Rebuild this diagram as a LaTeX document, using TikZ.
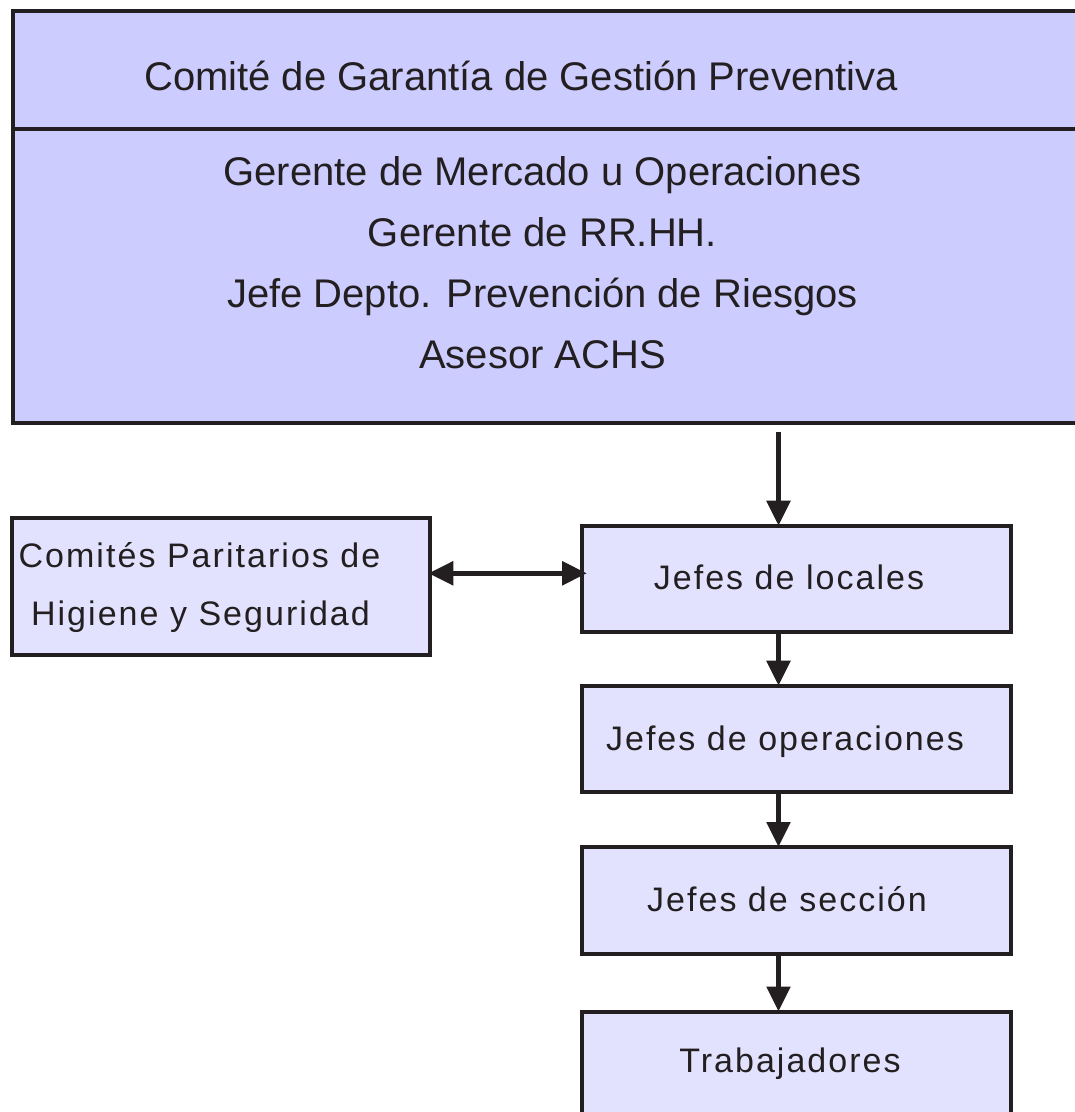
\documentclass[tikz,border=0pt]{standalone}
\usepackage{fontspec}
\setmainfont{Liberation Sans}
\newfontfamily\spacedfont[LetterSpace=6]{Liberation Sans}
\usetikzlibrary{arrows.meta}
\definecolor{ink}{HTML}{231F20}
\definecolor{topfill}{HTML}{CCCCFF}
\definecolor{boxfill}{HTML}{E2E2FF}
\tikzset{
  border/.style={draw=ink, line width=4pt},
  topbox/.style={border, fill=topfill, rectangle, inner sep=0pt, anchor=north west},
  orgbox/.style={border, fill=boxfill, rectangle, inner sep=0pt, anchor=north west,
                 minimum width=429.3pt, minimum height=106.5pt},
  bigtext/.style={font=\fontsize{40}{48}\selectfont, text=ink, inner sep=0pt, anchor=base},
  smalltext/.style={font=\spacedfont\fontsize{34}{40}\selectfont, text=ink, inner sep=0pt, anchor=base},
  arr/.style={draw=ink, line width=5.5pt, -{Triangle[width=23pt,length=25pt]}},
  dblarr/.style={draw=ink, line width=5.5pt, {Triangle[width=23pt,length=25pt]}-{Triangle[width=23pt,length=25pt]}}
}
\begin{document}
\begin{tikzpicture}[x=1pt,y=-1pt]
\useasboundingbox (0,0) rectangle (1075,1112);
\fill[white] (0,0) rectangle (1075,1112);
% top committee box
\node[topbox, minimum width=1090pt, minimum height=411.5pt] (top) at (11,9) {};
\draw[border] ([yshift=-119.7pt]top.north west) -- ([yshift=-119.7pt]top.north east);
\node[bigtext] (title) at (521,90) {Comité de Garantía de Gestión Preventiva};
\node[bigtext] (m1) at (542.5,185) {Gerente de Mercado u Operaciones};
\node[bigtext] (m2) at (542.5,246) {Gerente de RR.HH.};
\node[bigtext] (m3) at (542.5,307.5) {Jefe Depto. Prevención de Riesgos};
\node[bigtext] (m4) at (542.5,368.5) {Asesor ACHS};
% left box
\node[border, fill=boxfill, rectangle, inner sep=0pt, anchor=north west,
      minimum width=418.8pt, minimum height=137.6pt] (cph) at (9.5,515.7) {};
\node[smalltext] (cph1) at (199.5,567) {Comités Paritarios de};
\node[smalltext] (cph2) at (200.5,625) {Higiene y Seguridad};
% chain
\node[orgbox] (lv1) at (580,523.7) {};
\node[orgbox] (lv2) at (580,683.7) {};
\node[orgbox] (lv3) at (580,845) {};
\node[orgbox] (lv4) at (580,1009.5) {};
\node[smalltext] (t1) at (789,589) {Jefes de locales};
\node[smalltext] (t2) at (785,750) {Jefes de operaciones};
\node[smalltext] (t3) at (787,911) {Jefes de sección};
\node[smalltext] (t4) at (790,1072) {Trabajadores};
% arrows
\coordinate (ax) at (778.5,0);
\coordinate (ay) at (0,573.3);
\draw[arr] ([yshift=-7.2pt]top.south -| ax) -- ([yshift=-2pt]lv1.north -| ax);
\draw[arr] (lv1.south -| ax) -- ([yshift=-2pt]lv2.north -| ax);
\draw[arr] (lv2.south -| ax) -- ([yshift=-2pt]lv3.north -| ax);
\draw[arr] (lv3.south -| ax) -- ([yshift=-2pt]lv4.north -| ax);
\draw[dblarr] ([xshift=-4pt]cph.east |- ay) -- ([xshift=7pt]lv1.west |- ay);
\end{tikzpicture}
\end{document}
